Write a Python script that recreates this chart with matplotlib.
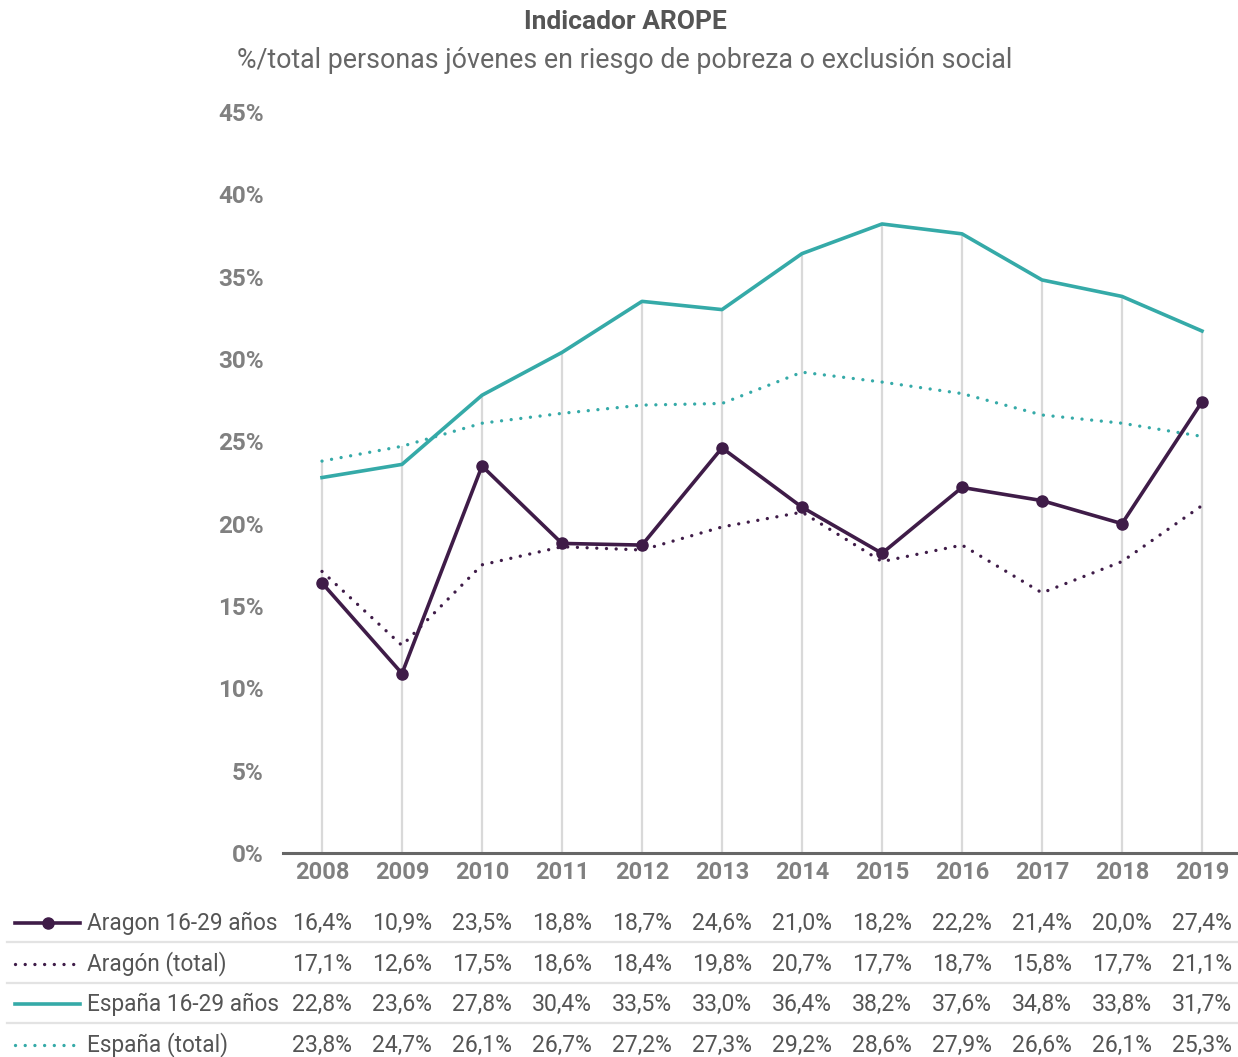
import numpy as np
import matplotlib
matplotlib.use("Agg")
import matplotlib.pyplot as plt
from matplotlib.lines import Line2D

plt.rcParams['font.family'] = ['Roboto', 'DejaVu Sans']

years = ['2008', '2009', '2010', '2011', '2012', '2013', '2014', '2015', '2016', '2017', '2018', '2019']
aragon_jov = [16.4, 10.9, 23.5, 18.8, 18.7, 24.6, 21.0, 18.2, 22.2, 21.4, 20.0, 27.4]
aragon_tot = [17.1, 12.6, 17.5, 18.6, 18.4, 19.8, 20.7, 17.7, 18.7, 15.8, 17.7, 21.1]
espana_jov = [22.8, 23.6, 27.8, 30.4, 33.5, 33.0, 36.4, 38.2, 37.6, 34.8, 33.8, 31.7]
espana_tot = [23.8, 24.7, 26.1, 26.7, 27.2, 27.3, 29.2, 28.6, 27.9, 26.6, 26.1, 25.3]
labels = ['Aragon 16-29 años', 'Aragón (total)', 'España 16-29 años', 'España (total)']

purple = '#3f1c48'
teal = '#35aaa8'

W, H = 1238, 1057
fig = plt.figure(figsize=(W / 100, H / 100), dpi=100)
ax = fig.add_axes([283 / W, 204 / H, (1238 - 283) / W, (853 - 112) / H])

x = np.arange(len(years))
series = [aragon_jov, aragon_tot, espana_jov, espana_tot]
tops = np.max(np.array(series), axis=0)
ax.vlines(x, 0, tops, color='#d9d9d9', lw=1.6, zorder=1)

styles = [
    dict(color=purple, lw=2.6, ls='-', marker='o', ms=8),
    dict(color=purple, lw=2.4, ls=(0, (0.01, 2.9)), dash_capstyle='round'),
    dict(color=teal, lw=2.6, ls='-'),
    dict(color=teal, lw=2.4, ls=(0, (0.01, 2.9)), dash_capstyle='round'),
]
for i in [3, 2, 1, 0]:
    ax.plot(x, series[i], zorder=4 if i == 0 else 3, **styles[i])

ax.set_xlim(-0.4875, 11.45)
ax.set_ylim(0, 45)
ax.set_yticks(np.arange(0, 46, 5))
ax.set_yticklabels(['%d%%' % v for v in range(0, 46, 5)])
ax.set_xticks(x)
ax.set_xticklabels(years)
for s in ['top', 'right', 'left']:
    ax.spines[s].set_visible(False)
ax.spines['bottom'].set_color('#666666')
ax.spines['bottom'].set_linewidth(2.2)
ax.tick_params(axis='y', length=0, pad=14, labelsize=17.5, labelcolor='#808080')
ax.tick_params(axis='x', length=0, pad=6, labelsize=17, labelcolor='#808080')
for t in ax.get_yticklabels() + ax.get_xticklabels():
    t.set_fontweight('bold')

# title
fig.text(625 / W, 1 - 22 / H, 'Indicador AROPE', ha='center', va='center',
         fontsize=19, fontweight='bold', color='#555555')
fig.text(625 / W, 1 - 60 / H, '%/total personas jóvenes en riesgo de pobreza o exclusión social',
         ha='center', va='center', fontsize=19.3, color='#666666')

# data table
row_y = [923, 964, 1004, 1045]
trans = matplotlib.transforms.blended_transform_factory(ax.transData, fig.transFigure)
for r, vals in enumerate(series):
    yy = 1 - row_y[r] / H
    for j, v in enumerate(vals):
        ax.text(j, yy, ('%.1f%%' % v).replace('.', ','), transform=trans, ha='center',
                va='center', fontsize=16.6, color='#555555', clip_on=False)
    st = {k: v for k, v in styles[r].items() if k not in ('marker', 'ms')}
    fig.add_artist(Line2D([15 / W, 80 / W], [yy, yy], transform=fig.transFigure, **st))
    if r == 0:
        fig.add_artist(Line2D([48 / W], [yy], transform=fig.transFigure, marker='o',
                              ms=8, color=purple, lw=0))
    fig.text(87 / W, yy, labels[r], ha='left', va='center', fontsize=16.3, color='#555555')

for sy in [942, 983, 1023]:
    fig.add_artist(Line2D([7 / W, 1238 / W], [1 - sy / H, 1 - sy / H],
                          transform=fig.transFigure, color='#e3e3e3', lw=1.6))

fig.savefig('out.png', dpi=100)
